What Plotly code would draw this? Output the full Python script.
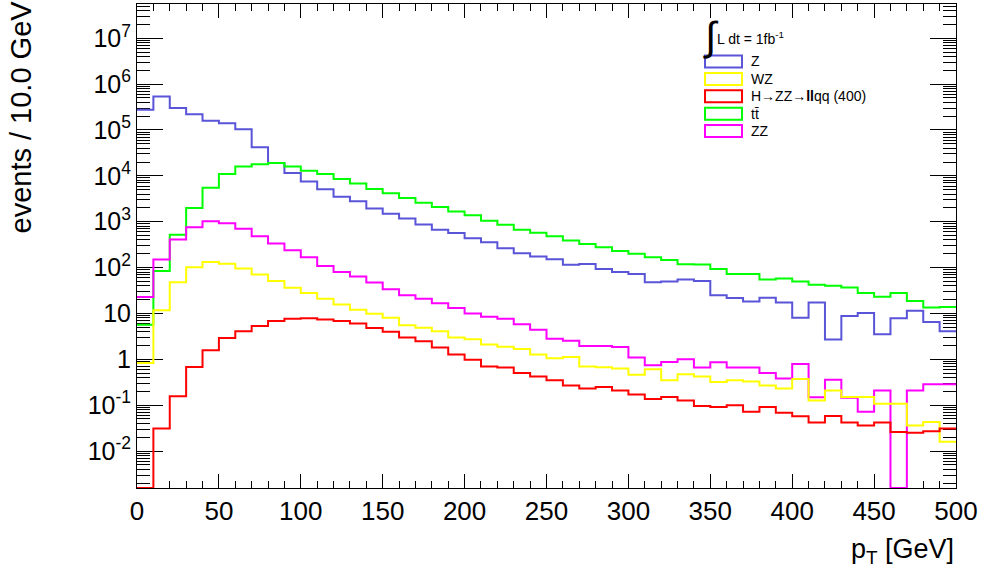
import plotly.graph_objects as go

# ---------------- data ----------------
bin_edges = list(range(0, 510, 10))  # 0..500 GeV, 10 GeV bins

z_vals = [2.75e5, 5.4e5, 3.0e5, 2.2e5, 1.6e5, 1.4e5, 1.04e5, 4.2e4, 1.9e4, 1.15e4,
          7.5e3, 5.1e3, 3.5e3, 2.8e3, 1.95e3, 1.5e3, 1.18e3, 870, 670, 565,
          435, 355, 265, 205, 175, 152, 115, 120, 93, 80,
          72, 48, 50, 55, 51, 25, 21.7, 18.3, 22, 17.4,
          8.1, 17.4, 2.7, 8.8, 10.2, 3.5, 7.9, 11.5, 6.5, 4.07]

wz_vals = [0.83, 11.7, 48, 102, 132, 121, 95, 71, 51, 36.5,
           28, 21, 15.6, 12.1, 9.9, 8.1, 5.5, 4.9, 4.1, 2.97,
           2.73, 2.09, 1.89, 1.68, 1.28, 1.05, 1.12, 0.70, 0.67, 0.63,
           0.46, 0.61, 0.35, 0.47, 0.42, 0.32, 0.35, 0.33, 0.27, 0.23,
           0.37, 0.126, 0.21, 0.15, 0.15, 0.108, 0.108, 0.036, 0.043, 0.016]

h_vals = [0, 0.031, 0.156, 0.68, 1.57, 2.9, 4.07, 5.3, 6.8, 7.7,
          7.9, 7.4, 6.8, 6.0, 4.8, 4.0, 2.97, 2.47, 1.80, 1.28,
          0.98, 0.70, 0.66, 0.50, 0.42, 0.35, 0.27, 0.23, 0.25, 0.21,
          0.17, 0.137, 0.15, 0.126, 0.096, 0.091, 0.10, 0.072, 0.091, 0.068,
          0.057, 0.042, 0.058, 0.042, 0.036, 0.042, 0.026, 0.025, 0.027, 0.031]

tt_vals = [5.7, 84, 520, 2000, 5500, 1.1e4, 1.6e4, 1.8e4, 1.9e4, 1.6e4,
           1.3e4, 1.1e4, 8.5e3, 6.8e3, 5.2e3, 4.2e3, 3.3e3, 2.6e3, 2.1e3, 1.67e3,
           1.38e3, 1.05e3, 860, 670, 575, 480, 390, 328, 278, 230,
           200, 168, 146, 118, 116, 93, 72, 72, 55, 58,
           50, 42, 40, 37, 28, 23, 28, 18.6, 13.4, 13.8]

zz_vals = [22.7, 150, 410, 760, 1030, 930, 705, 480, 335, 240,
           168, 108, 80, 64, 47, 33.5, 25, 21, 16.6, 13.1,
           10, 8.5, 7.7, 5.8, 4.4, 2.8, 2.55, 1.95, 1.95, 1.85,
           1.09, 0.74, 0.87, 1.0, 0.66, 0.86, 0.66, 0.66, 0.50, 0.38,
           0.79, 0.149, 0.36, 0.146, 0.072, 0.21, 0, 0.21, 0.285, 0.285]

series_names = ["Z", "WZ", "H\u2192ZZ\u2192<b>ll</b>qq (400)", "tt\u0304", "ZZ"]
series_vals = [z_vals, wz_vals, h_vals, tt_vals, zz_vals]
series_colors = ["#5954d8", "#ffff00", "#ff0000", "#00ff00", "#ff00ff"]

y_tick_vals = [1e-2, 1e-1, 1, 10, 1e2, 1e3, 1e4, 1e5, 1e6, 1e7]
y_tick_text = ["10<sup>-2</sup>", "10<sup>-1</sup>", "1", "10", "10<sup>2</sup>",
               "10<sup>3</sup>", "10<sup>4</sup>", "10<sup>5</sup>", "10<sup>6</sup>",
               "10<sup>7</sup>"]

ylog_min, ylog_max = -2.806, 7.747
floor_val = 10 ** ylog_min

# ---------------- figure ----------------
W, H = 986, 577
L, R, T, B = 137, 30, 4, 89
pw, ph = W - L - R, H - T - B

def px2paper(x, y):
    return (x - L) / pw, (H - B - y) / ph

fig = go.Figure()
draw_order = [0, 3, 4, 1, 2]
for i in draw_order:
    vals = [v if v > 0 else floor_val for v in series_vals[i]]
    fig.add_trace(go.Scatter(
        x=bin_edges, y=vals + [vals[-1]],
        mode="lines", line=dict(color=series_colors[i], width=2, shape="hv"),
        showlegend=False, hoverinfo="skip"))

font_family = "Liberation Sans, Arial, Helvetica, sans-serif"

fig.update_layout(
    width=W, height=H,
    margin=dict(l=L, r=R, t=T, b=B, pad=0),
    paper_bgcolor="white", plot_bgcolor="white",
    font=dict(family=font_family, color="black"),
    xaxis=dict(range=[0, 500], dtick=50, tick0=0, ticks="inside", ticklen=14,
               tickwidth=1, tickcolor="black", showline=True, linecolor="black",
               linewidth=1, mirror="ticks", showgrid=False, zeroline=False,
               tickfont=dict(size=26, family=font_family), layer="below traces",
               minor=dict(dtick=10, tick0=0, ticks="inside", ticklen=7,
                          tickcolor="black", tickwidth=1, showgrid=False)),
    yaxis=dict(type="log", range=[ylog_min, ylog_max], tickmode="array",
               tickvals=y_tick_vals, ticktext=y_tick_text, ticks="inside",
               ticklen=26, tickwidth=1, tickcolor="black", showline=True,
               linecolor="black", linewidth=1, mirror="ticks", showgrid=False,
               zeroline=False, tickfont=dict(size=25, family=font_family),
               layer="below traces",
               minor=dict(dtick="D1", ticks="inside", ticklen=13,
                          tickcolor="black", tickwidth=1, showgrid=False)),
)

annotations = []
# axis titles
annotations.append(dict(xref="paper", yref="paper", x=1.0, y=px2paper(0, 551)[1],
                        xanchor="right", yanchor="middle", showarrow=False,
                        text="p<sub>T</sub> [GeV]", font=dict(size=27)))
annotations.append(dict(xref="paper", yref="paper", x=px2paper(20, 0)[0],
                        y=px2paper(0, -1)[1], xanchor="center", yanchor="top",
                        showarrow=False, textangle=-90,
                        text="events / 10.0 GeV", font=dict(size=29)))

# legend header
annotations.append(dict(xref="paper", yref="paper", x=px2paper(701, 0)[0],
                        y=px2paper(0, 36)[1], xanchor="left", yanchor="middle",
                        showarrow=False, text="\u222b", font=dict(size=40)))
annotations.append(dict(xref="paper", yref="paper", x=px2paper(715, 0)[0],
                        y=px2paper(0, 38)[1], xanchor="left", yanchor="middle",
                        showarrow=False, text="L dt = 1fb<sup>-1</sup>",
                        font=dict(size=14)))

shapes = []
row_centers = [61.5, 79, 96.3, 113.7, 131]
for name, col, yc in zip(series_names, series_colors, row_centers):
    x0, y0 = px2paper(705, yc - 6)
    x1, y1 = px2paper(742, yc + 6)
    shapes.append(dict(type="rect", xref="paper", yref="paper",
                       x0=x0, x1=x1, y0=y1, y1=y0,
                       line=dict(color=col, width=2), fillcolor="rgba(0,0,0,0)"))
    annotations.append(dict(xref="paper", yref="paper", x=px2paper(749, 0)[0],
                            y=px2paper(0, yc)[1], xanchor="left", yanchor="middle",
                            showarrow=False, text=name, font=dict(size=14)))

fig.update_layout(annotations=annotations, shapes=shapes)

fig.write_html("out.html", config={"displayModeBar": False},
               post_script="document.body.style.margin='0';document.body.style.overflow='hidden';")
